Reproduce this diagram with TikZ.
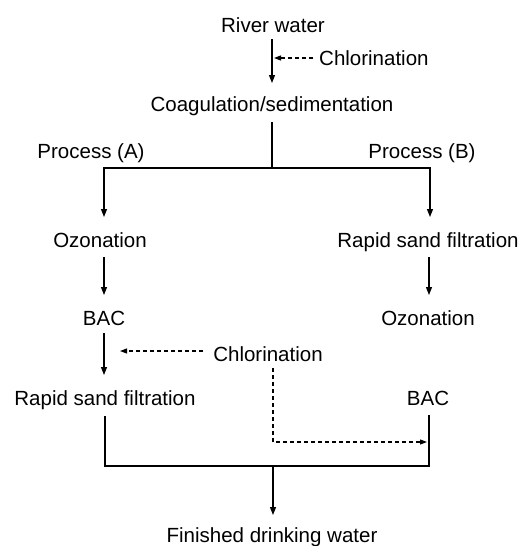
\documentclass[tikz,border=0pt]{standalone}
\usepackage{fontspec}
\setmainfont{Liberation Sans}
\usetikzlibrary{arrows.meta,calc}
\begin{document}
\begin{tikzpicture}[x=1pt,y=-1pt,
  lbl/.style={inner sep=0pt,anchor=base,font=\fontsize{20.5pt}{24pt}\selectfont},
  ln/.style={line width=1.3pt},
  arr/.style={ln,-{Triangle[length=8pt,width=6pt]}},
  darr/.style={line width=1.1pt,dash pattern=on 4pt off 3pt,-{Triangle[length=7pt,width=5pt]}}]
\useasboundingbox (0,0) rectangle (521,546);
% labels
\node[lbl] (river) at (273,32) {River water};
\node[lbl,anchor=base west] (chl1) at (319,65) {Chlorination};
\node[lbl] (coag) at (272,111) {Coagulation/sedimentation};
\node[lbl] (procA) at (91,158) {Process (A)};
\node[lbl] (procB) at (422,158) {Process (B)};
\node[lbl] (ozA) at (100,247) {Ozonation};
\node[lbl] (rsfB) at (428,247) {Rapid sand filtration};
\node[lbl] (bacA) at (104,325) {BAC};
\node[lbl] (ozB) at (428,325) {Ozonation};
\node[lbl] (chl2) at (268,361) {Chlorination};
\node[lbl] (rsfA) at (105,405) {Rapid sand filtration};
\node[lbl] (bacB) at (428,405) {BAC};
\node[lbl] (fin) at (272,542) {Finished drinking water};
% junction coordinates
\coordinate (t1) at (272,39);
\coordinate (t2) at (272,83);
\coordinate (c1) at (274,58);
\coordinate (c0) at (313,58);
\coordinate (s1) at (272,122);
\coordinate (j1) at (272,168);
\coordinate (aL) at (104,217);
\coordinate (aR) at (430,217);
\coordinate (b1) at (104,257);
\coordinate (b2) at (104,295);
\coordinate (r1) at (429,257);
\coordinate (r2) at (429,295);
\coordinate (d1) at (104,333);
\coordinate (d2) at (104,375);
\coordinate (e0) at (203,351);
\coordinate (e1) at (120,351);
\coordinate (f0) at (273,368);
\coordinate (f1) at (427,442);
\coordinate (g1) at (105,416);
\coordinate (g2) at (429,415);
\coordinate (j2) at (273,466);
\coordinate (h1) at (273,515);
% connectors
\draw[arr] (t1) -- (t2);
\draw[darr] (c0) -- (c1);
\draw[ln] (s1) -- (j1);
\draw[arr] (j1) -| (aL);
\draw[arr] (j1) -| (aR);
\draw[arr] (b1) -- (b2);
\draw[arr] (r1) -- (r2);
\draw[arr] (d1) -- (d2);
\draw[darr] (e0) -- (e1);
\draw[darr] (f0) |- (f1);
\draw[ln] (g1) |- (j2) -| (g2);
\draw[arr] (j2) -- (h1);
\end{tikzpicture}
\end{document}
